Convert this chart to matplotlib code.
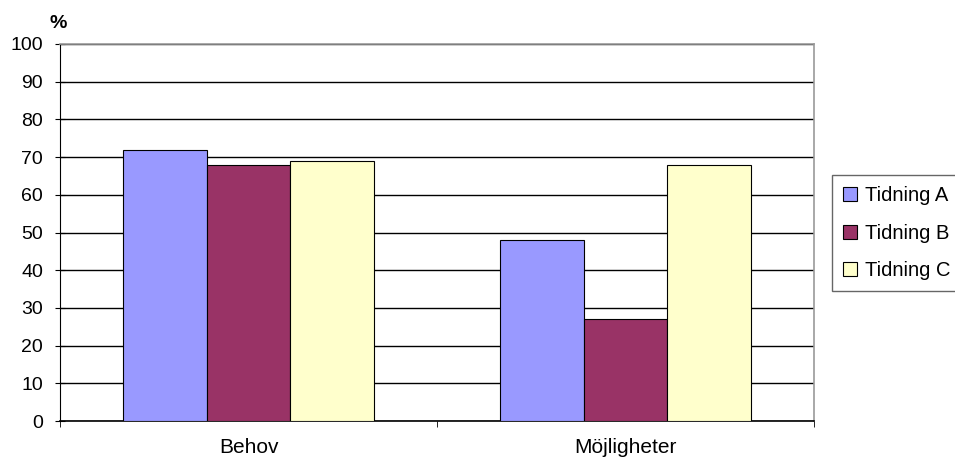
import matplotlib.pyplot as plt
import numpy as np

plt.rcParams['font.family'] = ['Liberation Sans', 'DejaVu Sans']

# data
categories = ["Behov", "Möjligheter"]
series_names = ["Tidning A", "Tidning B", "Tidning C"]
tidning_a = [72, 48]
tidning_b = [68, 27]
tidning_c = [69, 68]
colors = ["#9999FF", "#993366", "#FFFFCC"]

fig = plt.figure(figsize=(9.55, 4.62), dpi=100)
ax = fig.add_axes([60 / 955, 1 - 421 / 462, (814 - 60) / 955, (421 - 44) / 462])

x = np.arange(len(categories))
w = 1 / 4.5
for i, (vals, name) in enumerate(zip([tidning_a, tidning_b, tidning_c], series_names)):
    ax.bar(x + (i - 1) * w, vals, w, color=colors[i], edgecolor="black",
           linewidth=0.8, label=name, zorder=3)

ax.set_xlim(-0.5, len(categories) - 0.5)
ax.set_ylim(0, 100)
ax.set_yticks(range(0, 101, 10))
ax.yaxis.grid(True, color="black", linewidth=1.0, zorder=0)
ax.set_axisbelow(True)

ax.set_xticks(x)
ax.set_xticklabels(categories, fontsize=15)
ax.set_xticks(np.arange(-0.5, len(categories)), minor=True)
ax.tick_params(axis="x", which="major", length=0, pad=12)
ax.tick_params(axis="x", which="minor", length=4, direction="out", color="black")
ax.tick_params(axis="y", length=6.5, direction="inout", labelsize=14, pad=9)

for s in ["top", "right"]:
    ax.spines[s].set_color("#999999")
    ax.spines[s].set_linewidth(1.2)
ax.spines["left"].set_color("black")
ax.spines["bottom"].set_color("black")
ax.spines["bottom"].set_linewidth(1.2)

fig.text(58 / 955, 1 - 24 / 462, "%", fontsize=14, fontweight="bold",
         ha="center", va="center")

leg = ax.legend(loc="upper left", bbox_to_anchor=(832 / 955, 1 - 175 / 462),
                bbox_transform=fig.transFigure, borderaxespad=0, fontsize=14.5,
                handlelength=0.7, handleheight=0.7, handletextpad=0.4,
                labelspacing=0.92, borderpad=0.55, fancybox=False,
                edgecolor="#666666", framealpha=1)
leg.get_frame().set_linewidth(1.0)

fig.savefig("out.png", dpi=100)
